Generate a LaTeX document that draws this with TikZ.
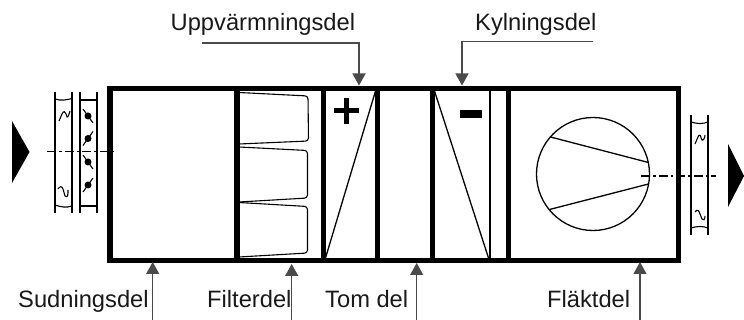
\documentclass[tikz,border=0pt]{standalone}
\usepackage{fontspec}
\setmainfont{Liberation Sans}
\usetikzlibrary{arrows.meta}
\definecolor{leader}{HTML}{4A4A4A}
\tikzset{
 x=1pt,y=-1pt,
 frame/.style={line width=5.3pt,line cap=rect,line join=miter},
 wall/.style={line width=5.3pt},
 thin/.style={line width=1.1pt},
 med/.style={line width=1.3pt},
 lead/.style={draw=leader,line width=1.2pt,-{Triangle[length=12pt,width=13pt]}},
 lbl/.style={font=\fontsize{23.7}{26}\selectfont,inner sep=0pt,text=black!90},
 axis/.style={line width=1.2pt,dash pattern=on 9pt off 3pt on 2.5pt off 3pt},
}
\newcommand{\damper}[3]{\fill (#1,#2) circle (3.5pt); \draw[thin] (#1-#3*5,#2-7) -- (#1+#3*5,#2+7);}
\begin{document}
\begin{tikzpicture}
\useasboundingbox (0,0) rectangle (744,320);
% housing
\draw[frame] (110,88.5) rectangle (678.5,260.5);
\foreach \x in {237,323.5,377.5,432.5,508.5}{\draw[wall] (\x,88.5) -- (\x,260.5);}
% filter pockets
\draw[thin,rounded corners=3pt] (239,92.5) -- (308,96) -- (308.5,141) -- (239,144);
\draw[thin,rounded corners=3pt] (239,147) -- (307.5,150.5) -- (307.5,198) -- (239,202);
\draw[thin,rounded corners=3pt] (239,202.5) -- (307.5,206.5) -- (307.5,253) -- (239,257);
% heating / cooling
\draw[med] (325.5,258) -- (375.5,91);
\draw[med] (434.5,91) -- (488.5,258);
\draw[thin] (490,90) -- (490,259);
\draw[line width=5.5pt] (334,110.5) -- (359,110.5) (346.5,98) -- (346.5,124);
\draw[line width=8pt] (459.5,114) -- (482,114);
% fan
\draw[med] (593,174) circle (56.5pt);
\draw[med] (550.5,137) -- (648.5,162.5);
\draw[med] (549.5,209.5) -- (648.5,184);
% inlet
\fill (12,121) -- (29.5,152) -- (12,183) -- cycle;
\draw[axis] (47,151.5) -- (114,151.5);
\draw[thin] (55,92) -- (55,213) (72,92) -- (72,213) (80,92) -- (80,213) (97,92) -- (97,213);
\draw[thin] (80,100) -- (97,100) (80,206) -- (97,206);
\draw[thin] (55,99) .. controls (61,101) and (66,100) .. (72,98.5);
\draw[thin] (55,205) .. controls (61,207) and (66,208) .. (72,206);
\draw[thin] (59,121) -- (62,114) .. controls (64,110) and (65,112) .. (66,114) -- (67,117) .. controls (68,118) and (69,114) .. (70,111);
\draw[thin] (58,189) .. controls (60,186) and (62,186) .. (63,189) -- (65,196) .. controls (66,198) and (68,197) .. (68,193) -- (68,190);
\damper{88}{116}{1}\damper{88}{138.5}{-1}\damper{88}{162}{1}\damper{88}{185}{-1}
% outlet
\fill (728,144) -- (744,176) -- (728,207) -- cycle;
\draw[axis] (641,176) -- (716,176);
\draw[thin] (691,115) -- (691,235) (708,115) -- (708,235);
\draw[thin] (691,122) .. controls (697,124) and (703,124) .. (708,122);
\draw[thin] (691,228) .. controls (697,226) and (703,226) .. (708,228);
\draw[thin] (695,144) -- (698,137) .. controls (699,134) and (701,135) .. (701,138) -- (702,140) .. controls (703,141) and (705,138) .. (705,135);
\draw[thin] (695,212) .. controls (697,209) and (699,210) .. (700,214) -- (702,219) .. controls (703,221) and (705,220) .. (705,216);
% labels
\node[lbl,anchor=base west] (uv) at (170.5,31) {Uppvärmningsdel};
\node[lbl,anchor=base west] (ky) at (475,31) {Kylningsdel};
\node[lbl,anchor=base west] (su) at (18,308) {Sudningsdel};
\node[lbl,anchor=base west] (fi) at (207,308) {Filterdel};
\node[lbl,anchor=base west] (to) at (325,308) {Tom del};
\node[lbl,anchor=base west] (fl) at (547,308) {Fläktdel};
% leaders
\coordinate (uvS) at (202,43); \coordinate (uvT) at (359,85.5);
\coordinate (kyS) at (593,41.7); \coordinate (kyT) at (462,85.5);
\draw[lead] (uvS) -| (uvT);
\draw[lead] (kyS) -| (kyT);
\coordinate (suS) at (152.7,320); \coordinate (suT) at (152.7,262);
\coordinate (fiS) at (291.7,320); \coordinate (fiT) at (291.7,264);
\coordinate (toS) at (416.7,320); \coordinate (toT) at (416.7,263);
\coordinate (flS) at (640,320); \coordinate (flT) at (640,262);
\draw[lead] (suS) -- (suT);
\draw[lead] (fiS) -- (fiT);
\draw[lead] (toS) -- (toT);
\draw[lead] (flS) -- (flT);
\end{tikzpicture}
\end{document}
